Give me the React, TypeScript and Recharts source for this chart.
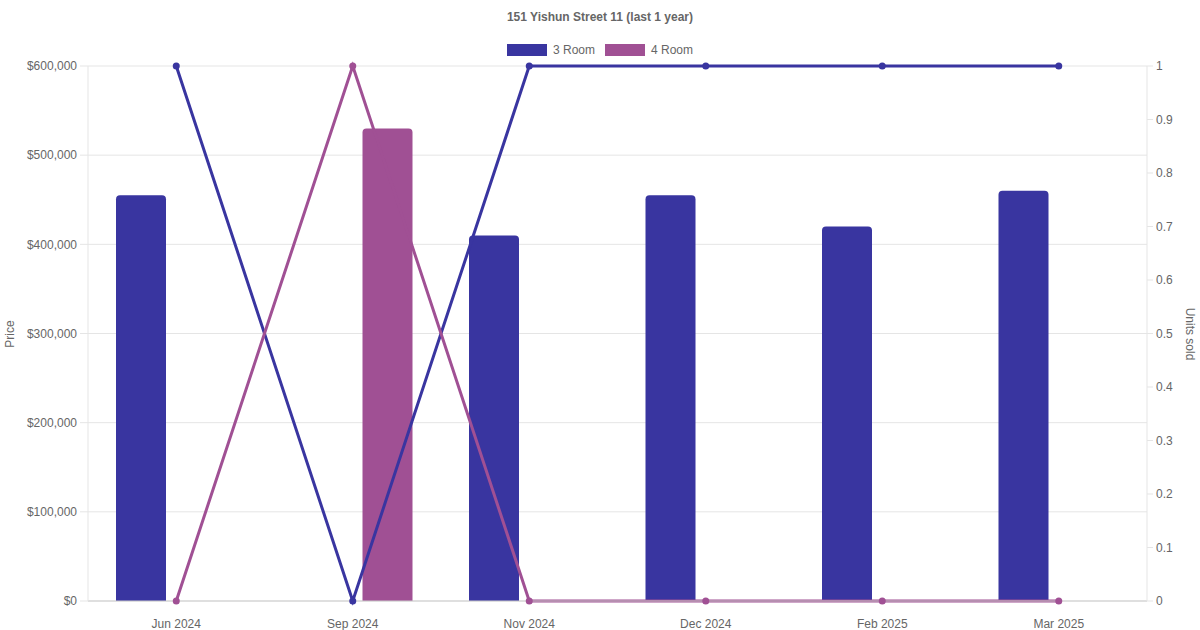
import { ComposedChart, Bar, Line, XAxis, YAxis, CartesianGrid } from "recharts";

const months = ["Jun 2024", "Sep 2024", "Nov 2024", "Dec 2024", "Feb 2025", "Mar 2025"];
const price3 = [455000, null, 410000, 455000, 420000, 460000];
const price4 = [null, 530000, null, null, null, null];
const units3 = [1, 0, 1, 1, 1, 1];
const units4 = [0, 1, 0, 0, 0, 0];
const priceTicks = [0, 100000, 200000, 300000, 400000, 500000, 600000];
const unitTicks = [0, 0.1, 0.2, 0.3, 0.4, 0.5, 0.6, 0.7, 0.8, 0.9, 1];

const BLUE = "#3935a0";
const PURPLE = "#a05094";
const TEXT = "#666";
const GRID = "#e5e5e5";
const FONT = "'Liberation Sans', Arial, Helvetica, sans-serif";

const data = months.map((m, i) => ({
  month: m,
  p3: price3[i],
  p4: price4[i],
  u3: units3[i],
  u4: units4[i],
}));

const fmtPrice = (v: number) => "$" + v.toLocaleString("en-US");

export default function App() {
  return (
    <div
      style={{
        position: "absolute",
        left: 0,
        top: 0,
        width: 1200,
        height: 630,
        background: "#fff",
        fontFamily: FONT,
      }}
    >
      <div
        style={{
          position: "absolute",
          top: 10,
          width: 1200,
          textAlign: "center",
          fontSize: 12,
          fontWeight: "bold",
          color: TEXT,
        }}
      >
        151 Yishun Street 11 (last 1 year)
      </div>
      <div
        style={{
          position: "absolute",
          top: 43,
          width: 1200,
          display: "flex",
          justifyContent: "center",
          gap: 10,
          fontSize: 12,
          color: TEXT,
          lineHeight: "14px",
        }}
      >
        {[
          ["3 Room", BLUE],
          ["4 Room", PURPLE],
        ].map(([name, c]) => (
          <div key={name} style={{ display: "flex", alignItems: "center", gap: 6 }}>
            <span style={{ display: "inline-block", width: 40, height: 12, background: c }} />
            <span>{name}</span>
          </div>
        ))}
      </div>
      <ComposedChart
        width={1200}
        height={630}
        data={data}
        margin={{ top: 66, right: 0, bottom: 0, left: 0 }}
        barSize={50}
        barGap={20}
        style={{ fontFamily: FONT }}
      >
        <CartesianGrid yAxisId="left" vertical={false} stroke={GRID} />
        <XAxis
          dataKey="month"
          tickLine={false}
          axisLine={{ stroke: "#ccc" }}
          tickMargin={12}
          height={29}
          tick={{ fontSize: 12, fill: TEXT, fontFamily: FONT }}
        />
        <YAxis
          yAxisId="left"
          width={88}
          domain={[0, 600000]}
          ticks={priceTicks}
          tickFormatter={fmtPrice}
          tickSize={8}
          tickMargin={3}
          tickLine={{ stroke: GRID }}
          axisLine={{ stroke: GRID }}
          tick={{ fontSize: 12, fill: TEXT, fontFamily: FONT }}
          label={{
            content: () => (
              <text
                x={14}
                y={334}
                transform="rotate(-90 14 334)"
                textAnchor="middle"
                fontSize={12}
                fill={TEXT}
                fontFamily={FONT}
              >
                Price
              </text>
            ),
          }}
        />
        <YAxis
          yAxisId="right"
          orientation="right"
          width={53}
          domain={[0, 1]}
          ticks={unitTicks}
          tickSize={6}
          tickMargin={3}
          tickLine={{ stroke: GRID }}
          axisLine={{ stroke: GRID }}
          tick={{ fontSize: 12, fill: TEXT, fontFamily: FONT }}
          label={{
            content: () => (
              <text
                x={1186}
                y={334}
                transform="rotate(90 1186 334)"
                textAnchor="middle"
                fontSize={12}
                fill={TEXT}
                fontFamily={FONT}
              >
                Units sold
              </text>
            ),
          }}
        />
        <Bar yAxisId="left" dataKey="p3" name="3 Room" fill={BLUE} radius={[4, 4, 0, 0]} isAnimationActive={false} />
        <Bar yAxisId="left" dataKey="p4" name="4 Room" fill={PURPLE} radius={[4, 4, 0, 0]} isAnimationActive={false} />
        <Line
          yAxisId="right"
          dataKey="u3"
          stroke={BLUE}
          strokeWidth={3}
          dot={{ r: 3.5, fill: BLUE, stroke: BLUE, strokeWidth: 0 }}
          activeDot={false}
          isAnimationActive={false}
        />
        <Line
          yAxisId="right"
          dataKey="u4"
          stroke={PURPLE}
          strokeWidth={3}
          dot={{ r: 3.5, fill: PURPLE, stroke: PURPLE, strokeWidth: 0 }}
          activeDot={false}
          isAnimationActive={false}
        />
      </ComposedChart>
    </div>
  );
}
